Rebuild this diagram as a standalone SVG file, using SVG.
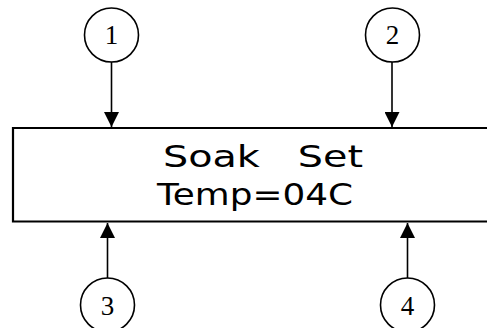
<svg xmlns="http://www.w3.org/2000/svg" width="487" height="328" viewBox="0 0 487 328">
<style>
.c{fill:#fff;stroke:#000;stroke-width:1.6}
.n{font-family:"Liberation Serif",serif;font-size:27px;text-anchor:middle;fill:#000}
.l{stroke:#000;stroke-width:1.6;fill:none}
.t{font-family:"DejaVu Sans","Liberation Sans",sans-serif;font-size:30px;fill:#000;white-space:pre}
</style>
<defs>
<marker id="ah" markerUnits="userSpaceOnUse" markerWidth="15" markerHeight="15" refX="15" refY="7.5" orient="auto">
<path d="M0,0 L15,7.5 L0,15 Z" fill="#000"/>
</marker>
</defs>
<g id="display">
<path d="M490,128 L13,128 L13,221.5 L490,221.5" fill="#fff" stroke="#000" stroke-width="2.2"/>
<text class="t" x="163" y="167" textLength="200" lengthAdjust="spacingAndGlyphs">Soak   Set</text>
<text class="t" x="157" y="205" textLength="196" lengthAdjust="spacingAndGlyphs">Temp=04C</text>
</g>
<g id="connectors">
<line class="l" x1="111.5" y1="62" x2="111.5" y2="127" marker-end="url(#ah)"/>
<line class="l" x1="392" y1="62" x2="392" y2="127" marker-end="url(#ah)"/>
<line class="l" x1="107.5" y1="278" x2="107.5" y2="223" marker-end="url(#ah)"/>
<line class="l" x1="407.5" y1="278" x2="407.5" y2="223" marker-end="url(#ah)"/>
</g>
<g id="n1"><circle class="c" cx="111.5" cy="35" r="27"/><text class="n" x="111.5" y="44">1</text></g>
<g id="n2"><circle class="c" cx="392.5" cy="35" r="27"/><text class="n" x="392.5" y="44">2</text></g>
<g id="n3"><circle class="c" cx="107.5" cy="305" r="27"/><text class="n" x="107.5" y="315">3</text></g>
<g id="n4"><circle class="c" cx="407.5" cy="305" r="27"/><text class="n" x="407.5" y="315">4</text></g>
</svg>
